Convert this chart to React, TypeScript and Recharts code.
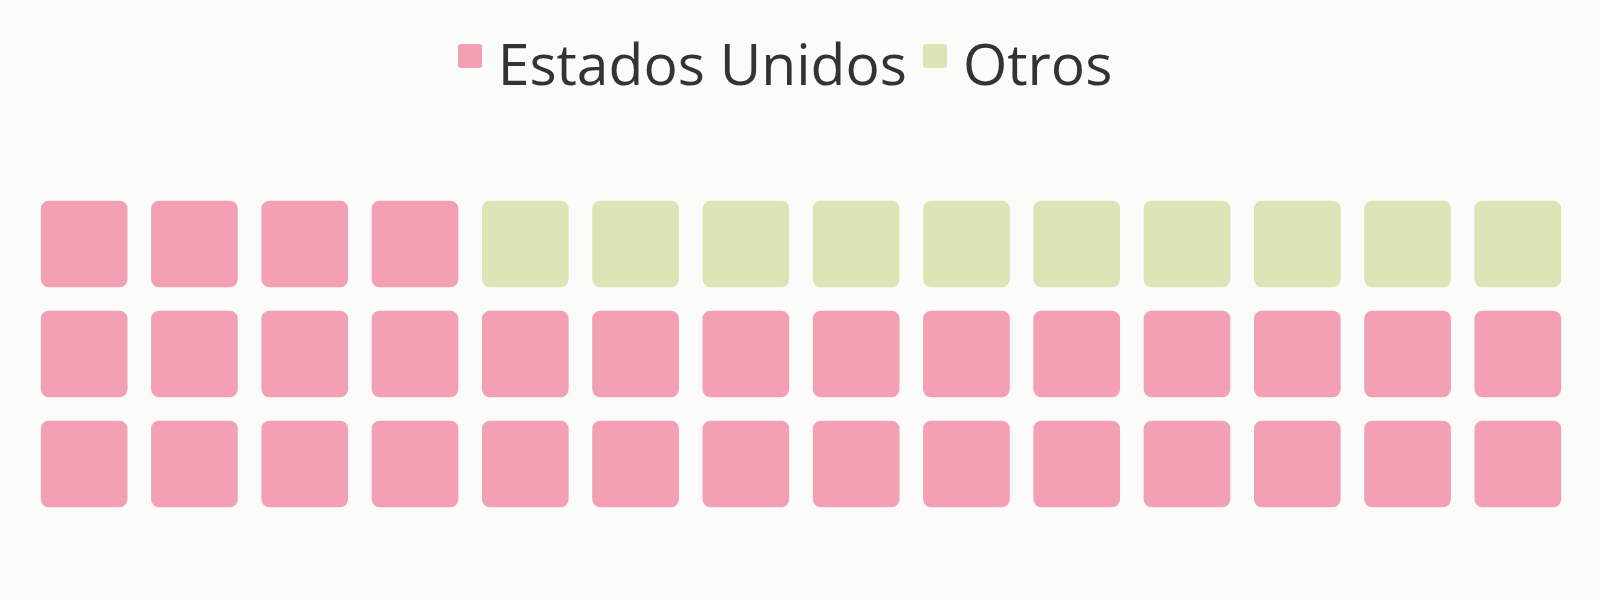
import React from 'react';
import { ScatterChart, Scatter, XAxis, YAxis, Legend } from 'recharts';

// Waffle chart: 3 rows x 14 columns, filled bottom-left first
const categories = ['Estados Unidos', 'Otros'];
const values = [32, 10];
const colors = ['#f4a0b4', '#dde4b6'];
const COLS = 14;
const ROWS = 3;

type Cell = { x: number; y: number; cat: string };

function buildCells(): Cell[][] {
  const out: Cell[][] = categories.map(() => []);
  let idx = 0;
  categories.forEach((cat, ci) => {
    for (let k = 0; k < values[ci]; k++) {
      const row = Math.floor(idx / COLS); // 0 = bottom row
      const col = idx % COLS;
      out[ci].push({ x: col, y: row, cat });
      idx++;
    }
  });
  return out;
}

const cells = buildCells();

const CELL = 86.7;

function Tile(props: any) {
  const { cx, cy, fill } = props;
  if (cx == null || cy == null) return null;
  return <rect x={cx - CELL / 2} y={cy - CELL / 2} width={CELL} height={CELL} rx={8} ry={8} fill={fill} />;
}

function LegendContent(props: any) {
  const payload = props.payload ?? [];
  return (
    <div
      style={{
        display: 'flex',
        justifyContent: 'center',
        alignItems: 'flex-start',
        paddingRight: 30,
        fontFamily: '"Open Sans", sans-serif',
        fontWeight: 400,
        fontSize: 57,
        lineHeight: '57px',
        color: '#333333',
      }}
    >
      {payload.map((p: any, i: number) => (
        <div key={i} style={{ display: 'flex', alignItems: 'flex-start', marginRight: i < payload.length - 1 ? 16 : 0 }}>
          <div style={{ width: 24, height: 24, borderRadius: 3, background: p.color, marginTop: 9, marginRight: 16 }} />
          <span>{p.value}</span>
        </div>
      ))}
    </div>
  );
}

export default function App() {
  return (
    <div style={{ position: 'absolute', top: 0, left: 0, width: 1600, height: 600, background: '#fbfbf9' }}>
      <ScatterChart width={1600} height={600} margin={{ top: 189, right: 27, bottom: 81, left: 29 }}>
        <XAxis type="number" dataKey="x" domain={[-0.5, COLS - 0.5]} hide />
        <YAxis type="number" dataKey="y" domain={[-0.5, ROWS - 0.5]} hide />
        <Legend
          verticalAlign="middle"
          align="center"
          wrapperStyle={{ top: 35, left: 0, width: 1600 }}
          content={<LegendContent />}
        />
        {categories.map((cat, i) => (
          <Scatter
            key={cat}
            name={cat}
            data={cells[i]}
            fill={colors[i]}
            shape={<Tile />}
            isAnimationActive={false}
          />
        ))}
      </ScatterChart>
    </div>
  );
}
